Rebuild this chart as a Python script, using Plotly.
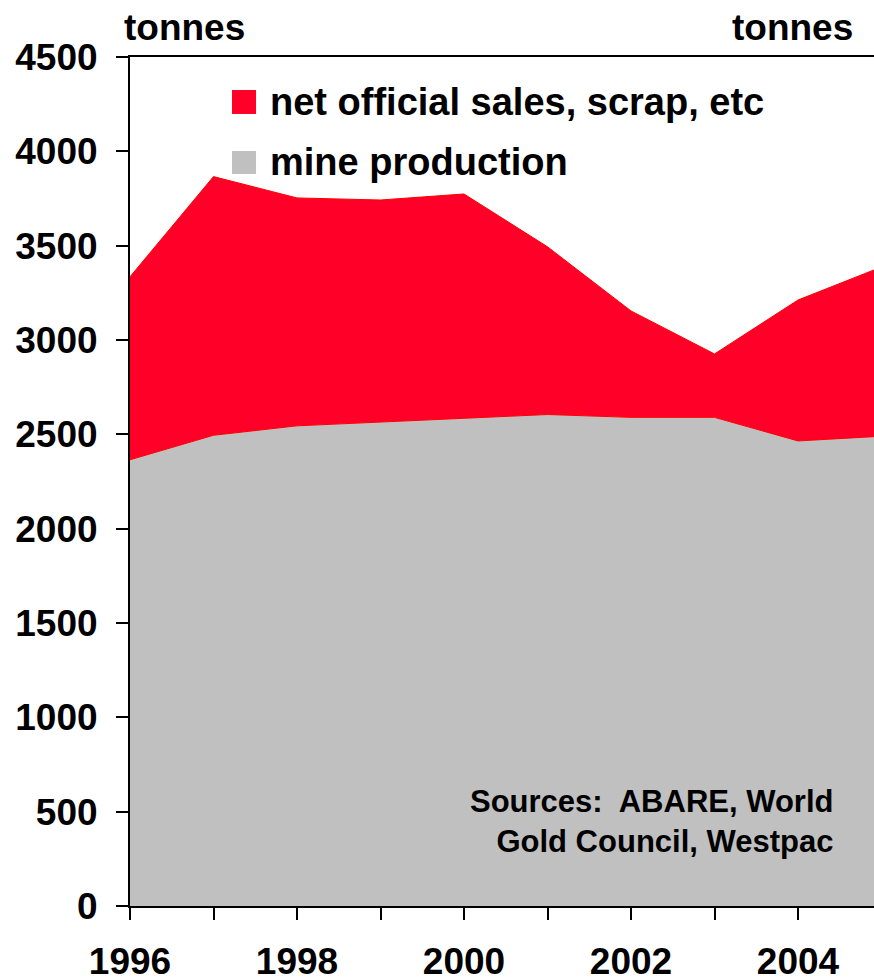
import plotly.graph_objects as go

# data (tonnes)
years = [1996, 1997, 1998, 1999, 2000, 2001, 2002, 2003, 2004, 2005]
mine_production = [2365, 2495, 2545, 2565, 2585, 2605, 2590, 2590, 2465, 2490]
net_official_sales = [970, 1371, 1208, 1177, 1189, 889, 564, 336, 747, 897]
tick_years = [1996, 1997, 1998, 1999, 2000, 2001, 2002, 2003, 2004, 2005]
tick_labels = ["1996", "", "1998", "", "2000", "", "2002", "", "2004", ""]

RED = "#FF0028"
GREY = "#C0C0C0"
FONT = "Liberation Sans, Arial, sans-serif"

fig = go.Figure()

fig.add_trace(go.Scatter(
    x=years, y=mine_production,
    name="mine production",
    stackgroup="one",
    mode="lines",
    line=dict(color="#FF0000", width=1),
    fillcolor=GREY,
))
fig.add_trace(go.Scatter(
    x=years, y=net_official_sales,
    name="net official sales, scrap, etc",
    stackgroup="one",
    mode="lines",
    line=dict(color="#FF0000", width=1),
    fillcolor=RED,
))

fig.update_layout(
    width=874, height=979,
    margin=dict(l=130, r=0, t=57, b=73),
    paper_bgcolor="white",
    plot_bgcolor="white",
    showlegend=False,
    font=dict(family=FONT, size=37, color="black"),
)

fig.update_xaxes(
    range=[1996, 1996 + 744 / 83.5],
    tickvals=tick_years,
    ticktext=["<b>%s</b>" % t if t else "" for t in tick_labels],
    ticks="outside", ticklen=12, tickwidth=2, tickcolor="black",
    showline=True, linecolor="black", linewidth=2, mirror=True,
    showgrid=False, zeroline=False,
    ticklabelstandoff=10,
    tickfont=dict(size=37),
    automargin=False,
)
fig.update_yaxes(
    range=[0, 4500],
    tickvals=list(range(0, 4501, 500)),
    ticktext=["<b>%d</b>" % v for v in range(0, 4501, 500)],
    ticks="outside", ticklen=12, tickwidth=2, tickcolor="black",
    showline=True, linecolor="black", linewidth=2,
    showgrid=False, zeroline=False,
    ticklabelstandoff=11,
    tickfont=dict(size=37),
    automargin=False,
)

# legend drawn by hand so the squares and spacing match
legend_items = [("net official sales, scrap, etc", RED, 0.9611, 0.9329),
                ("mine production", GREY, 0.8893, 0.8622)]
for label, col, y1, y0 in legend_items:
    fig.add_shape(type="rect", xref="paper", yref="paper",
                  x0=0.1371, x1=0.1694, y0=y0, y1=y1,
                  fillcolor=col, line=dict(width=0))
    fig.add_annotation(xref="paper", yref="paper", x=0.1855, y=(y0 + y1) / 2,
                       xanchor="left", yanchor="middle", showarrow=False,
                       text="<b>%s</b>" % label, font=dict(size=38))

# unit labels
fig.add_annotation(xref="paper", yref="paper", x=-0.0108, y=1.035,
                   xanchor="left", yanchor="middle", showarrow=False,
                   text="<b>tonnes</b>", font=dict(size=37))
fig.add_annotation(xref="paper", yref="paper", x=0.9745, y=1.035,
                   xanchor="right", yanchor="middle", showarrow=False,
                   text="<b>tonnes</b>", font=dict(size=37))

# sources note
fig.add_annotation(xref="paper", yref="paper", x=0.9476, y=0.099,
                   xanchor="right", yanchor="middle", align="right",
                   showarrow=False,
                   text="<b>Sources:  ABARE, World<br>Gold Council, Westpac</b>",
                   font=dict(size=31))

# drop the default page margin so the figure sits at the window's corner
fig.write_html("out.html",
               config={"displayModeBar": False},
               post_script="document.body.style.margin='0';"
                           "document.body.style.overflow='hidden';")
